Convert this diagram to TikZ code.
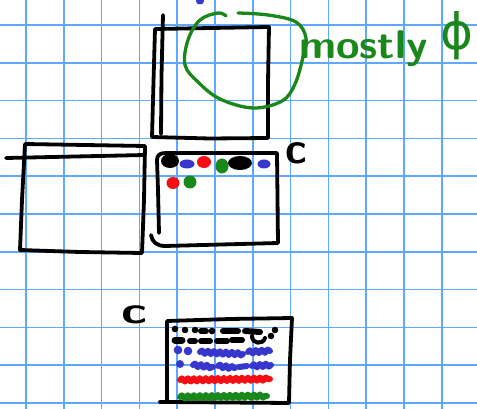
\documentclass[tikz,border=0pt]{standalone}
\usepackage{fontspec}
\newfontfamily\phifont{DejaVu Sans}
\usetikzlibrary{decorations.pathmorphing}
\definecolor{gridblue}{RGB}{95,168,255}
\definecolor{inkgreen}{RGB}{25,135,25}
\definecolor{inkblue}{RGB}{55,55,205}
\definecolor{inkred}{RGB}{245,15,20}
\begin{document}
\begin{tikzpicture}[x=1pt,y=-1pt,
  gridline/.style={gridblue, line width=1.7pt},
  pen/.style={black, line width=3.8pt, line cap=round, line join=round},
  gpen/.style={inkgreen, line width=3.3pt, line cap=round, line join=round},
  ink/.style={line width=6pt, line cap=round, line join=round},
  wave/.style={decorate, decoration={snake, amplitude=1.6pt, segment length=6pt}},
  hand/.style={font=\sffamily\bfseries\fontsize{44}{44}\selectfont, inner sep=0pt}]
\fill[white] (0,0) rectangle (477,409);
\useasboundingbox (0,0) rectangle (477,409);
% grid paper
\foreach \i in {0,...,11} \draw[gridline] ({26+37.8*\i},0) -- ({26+37.8*\i},409);
\foreach \j in {0,...,10} \draw[gridline] (0,{25+37.8*\j}) -- (477,{25+37.8*\j});
% top blue dot
\fill[inkblue] (200,1) ellipse (4pt and 3.5pt);
% top box
\draw[pen] (155,29) -- (211,28) -- (269,27) -- (268,82) -- (268,138) -- (210,138.5) -- (152,137) -- (153.5,82) -- cycle;
\draw[pen] (163,15) -- (161.5,75) -- (161,134);
% green loop
\draw[gpen] plot[smooth, tension=0.6] coordinates {(226,16) (218,13) (200,20) (188,40) (185,65) (198,82) (220,99) (253,108) (282,101) (295,84) (303,57) (306,38) (296,22) (268,15) (238,13)};
\node[inkgreen, anchor=base west, inner sep=0pt, xscale=1.07, font=\sffamily\bfseries\fontsize{40}{40}\selectfont] (mostly) at (299,59) {mostly};
\node[inkgreen, inner sep=0pt, font=\phifont\fontsize{50}{50}\selectfont] (phi) at (457,36) {ϕ};
% left box
\draw[pen] (25,144) -- (85,145) -- (145,146) -- (144,200) -- (142,253) -- (80,252) -- (20,250) -- (22,200) -- cycle;
\draw[pen] (6,158) -- (75,156.5) -- (145,155);
% middle box
\draw[pen] (159,233) -- (158,190) -- (157,160) .. controls (157,155) and (160,153) .. (166,153) -- (277,153) -- (278,243) -- (165,246) .. controls (157,246) and (152,242) .. (151,235);
\fill (170,161) ellipse (9pt and 7pt);
\fill[inkblue] (187,164) ellipse (7.5pt and 4.5pt);
\fill[inkred] (204,162) ellipse (7pt and 6pt);
\fill[inkgreen] (222,166) ellipse (6.5pt and 7.5pt);
\fill (240,163) ellipse (12pt and 7pt);
\fill[inkblue] (264,164) ellipse (6.5pt and 4.5pt);
\fill[inkred] (173,183) ellipse (6.5pt and 6pt);
\fill[inkgreen] (190,182) ellipse (6.5pt and 6.5pt);
\node[hand] (c1) at (296,153) {c};
% bottom box
\draw[pen] (167,321) -- (230,319) -- (292,318) -- (290,360) -- (289,403) -- (228,402.5) -- (167,402) -- (167,360) -- cycle;
\draw[pen] (160,402) -- (167,402);
\node[hand, xscale=1.2, yscale=0.85] (c2) at (134,315) {c};
% row 1 black
\foreach \x/\y in {175/329,185/330,195/330,212/331,275/330} \fill (\x,\y) circle (3.3pt);
\draw[ink] (201,331) -- (206,331);
\draw[ink] (223,331) -- (238,331);
\draw[ink] (245,331) -- (260,332);
% row 2 black
\draw[ink, line width=7pt] (175,340) -- (182,340);
\draw[ink] (190,341) -- (195,341);
\draw[ink] (201,341) -- (210,341);
\draw[ink] (217,341) -- (227,341);
\draw[ink] (232,340) -- (242,340);
\draw[line width=4pt, line cap=round] (252,336) .. controls (252,344) and (263,345) .. (265,338);
\fill (271,336) circle (3.3pt);
% row 3 blue
\fill[inkblue] (178,350) circle (4.3pt);
\fill[inkblue] (188,351) circle (4.3pt);
\draw[ink, inkblue, wave] (200,352) -- (243,354);
\draw[ink, inkblue, wave] (248,352) -- (270,351);
% row 4 blue
\fill[inkblue] (180,364) circle (4pt);
\draw[ink, inkblue, wave] (193,365) -- (213,367);
\draw[ink, inkblue, wave] (218,366) -- (235,368);
\draw[ink, inkblue] (239,367) -- (247,366);
\draw[ink, inkblue, wave] (252,366) -- (271,365);
% row 5 red
\draw[ink, inkred, wave] (180,380) -- (270,379);
% row 6 green
\draw[ink, inkgreen, wave] (180,397) -- (267,396);
\end{tikzpicture}
\end{document}
